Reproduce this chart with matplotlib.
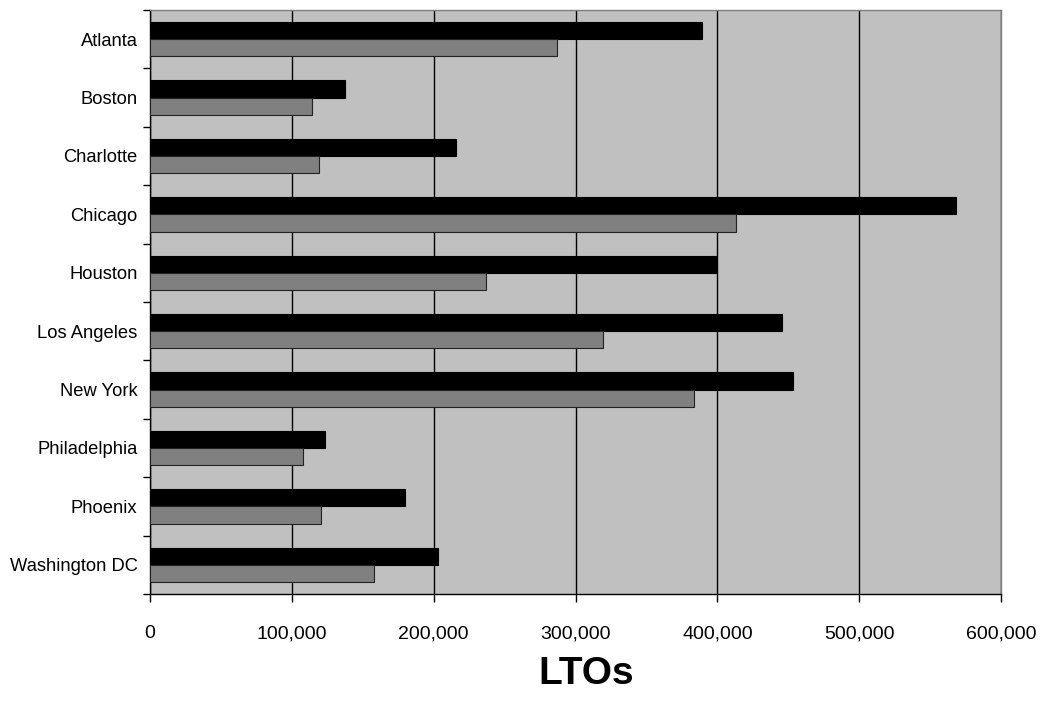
import matplotlib
matplotlib.use("Agg")
import matplotlib.pyplot as plt
import numpy as np
from matplotlib.ticker import FuncFormatter, FixedLocator

cities = ["Atlanta", "Boston", "Charlotte", "Chicago", "Houston", "Los Angeles",
          "New York", "Philadelphia", "Phoenix", "Washington DC"]
series_a = [389400, 137500, 215700, 568100, 399200, 445400, 453100, 123600, 179600, 203100]
series_b = [287000, 114400, 119400, 413000, 237000, 319600, 383300, 107900, 120600, 157900]
x_ticks = [0, 100000, 200000, 300000, 400000, 500000, 600000]
x_label = "LTOs"

plt.rcParams['font.family'] = ['Liberation Sans', 'DejaVu Sans']

fig = plt.figure(figsize=(10.41, 7.11), dpi=100)
ax = fig.add_axes([150/1041, 1-594/711, (1001-150)/1041, (594-10)/711])
ax.set_facecolor('#C0C0C0')

y = np.arange(len(cities))
h = 0.296
ax.barh(y - h/2, series_a, height=h, color='#000000', edgecolor='#000000', linewidth=0.8, zorder=3)
ax.barh(y + h/2, series_b, height=h, color='#808080', edgecolor='#222222', linewidth=0.8, zorder=3)

ax.set_xlim(0, 600000)
ax.set_ylim(len(cities) - 0.5, -0.5)
ax.xaxis.set_major_locator(FixedLocator(x_ticks))
ax.xaxis.set_major_formatter(FuncFormatter(lambda v, p: f"{int(v):,}"))
ax.grid(axis='x', color='#000000', linewidth=1.0, zorder=1)
ax.set_axisbelow(True)

ax.set_yticks(y)
ax.set_yticklabels(cities)
ax.yaxis.set_minor_locator(FixedLocator(np.arange(-0.5, len(cities), 1.0)))
ax.tick_params(axis='y', which='major', length=0, pad=9, labelsize=13.2)
ax.tick_params(axis='y', which='minor', length=5, width=1, color='#000000', direction='out')
ax.tick_params(axis='x', which='major', length=6, width=1, direction='out', pad=16.5, labelsize=14)

for s in ['left', 'bottom']:
    ax.spines[s].set_color('#000000')
    ax.spines[s].set_linewidth(1.0)
for s in ['top', 'right']:
    ax.spines[s].set_color('#808080')
    ax.spines[s].set_linewidth(1.0)

fig.text(586/1041, 1-674/711, x_label, ha='center', va='center', fontsize=28, fontweight='bold')

fig.savefig("out.png", dpi=100)
